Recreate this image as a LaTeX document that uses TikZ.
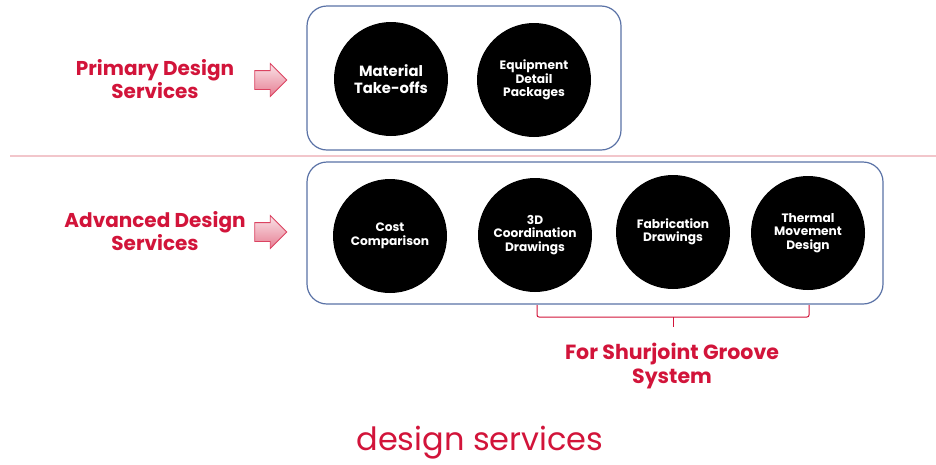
\documentclass[tikz,border=0pt]{standalone}
\usepackage{fontspec}
\setmainfont{Poppins}
\usetikzlibrary{shapes.arrows}

\definecolor{brandred}{HTML}{D2143A}
\definecolor{framecol}{HTML}{5A72A6}
\definecolor{rulecol}{HTML}{F2C6CB}

\tikzset{
  groupbox/.style={draw=framecol, line width=1.2pt, rounded corners=20pt},
  service/.style={circle, fill=black, text=white, minimum size=114pt,
    inner sep=0pt, align=center, font=\bfseries\fontsize{12.2}{13.5}\selectfont},
  tierlabel/.style={text=brandred, align=center,
    font=\bfseries\fontsize{20}{23}\selectfont},
  pointer/.style={single arrow, draw=brandred!80, line width=0.8pt,
    top color=brandred!12, bottom color=brandred!55,
    minimum height=32pt, minimum width=32pt, inner xsep=0pt, inner ysep=9pt,
    single arrow head extend=7pt}
}

\begin{document}
\begin{tikzpicture}[x=1pt, y=-1pt]
      \useasboundingbox[fill=white] (0,0) rectangle (936,464);
      % separator between the two tiers
      \draw[rulecol, line width=1.2pt] (10,156) -- (936,156);

      % primary tier
      \node[tierlabel] (primary) at (155,79) {Primary Design\\Services};
      \node[pointer] (parrow) at (266,80) {};
      \draw[groupbox] (307,6) rectangle (621,150);
      \node[service, font=\bfseries\fontsize{14.8}{17}\selectfont] (mto) at (391,79)
        {Material\\Take-offs};
      \node[service] (edp) at (534,80) {Equipment\\Detail\\Packages};

      % advanced tier
      \node[tierlabel] (advanced) at (155,231) {Advanced Design\\Services};
      \node[pointer] (aarrow) at (266,232) {};
      \draw[groupbox] (307,162) rectangle (883,304);
      \node[service] (cost) at (390,236) {Cost\\Comparison};
      \node[service] (coord) at (535,235) {3D\\Coordination\\Drawings};
      \node[service] (fab) at (673,232) {Fabrication\\Drawings};
      \node[service] (therm) at (808,233) {Thermal\\Movement\\Design};

      % bracket under the groove services
      \coordinate (bl) at (537,305);
      \coordinate (br) at (809,305);
      \coordinate (bm) at (673,327);
      \draw[brandred, line width=1pt, rounded corners=2pt]
        (bl) -- (bl |- 0,317) -- (br |- 0,317) -- (br);
      \draw[brandred, line width=1pt] (bm |- 0,317) -- (bm);
      \node[tierlabel, font=\bfseries\fontsize{20.5}{24}\selectfont] (groove)
        at (672,366) {For Shurjoint Groove\\System};

      \node[text=brandred, font=\fontsize{32}{36}\selectfont] (title) at (480,443)
        {design services};
    \end{tikzpicture}
\end{document}
